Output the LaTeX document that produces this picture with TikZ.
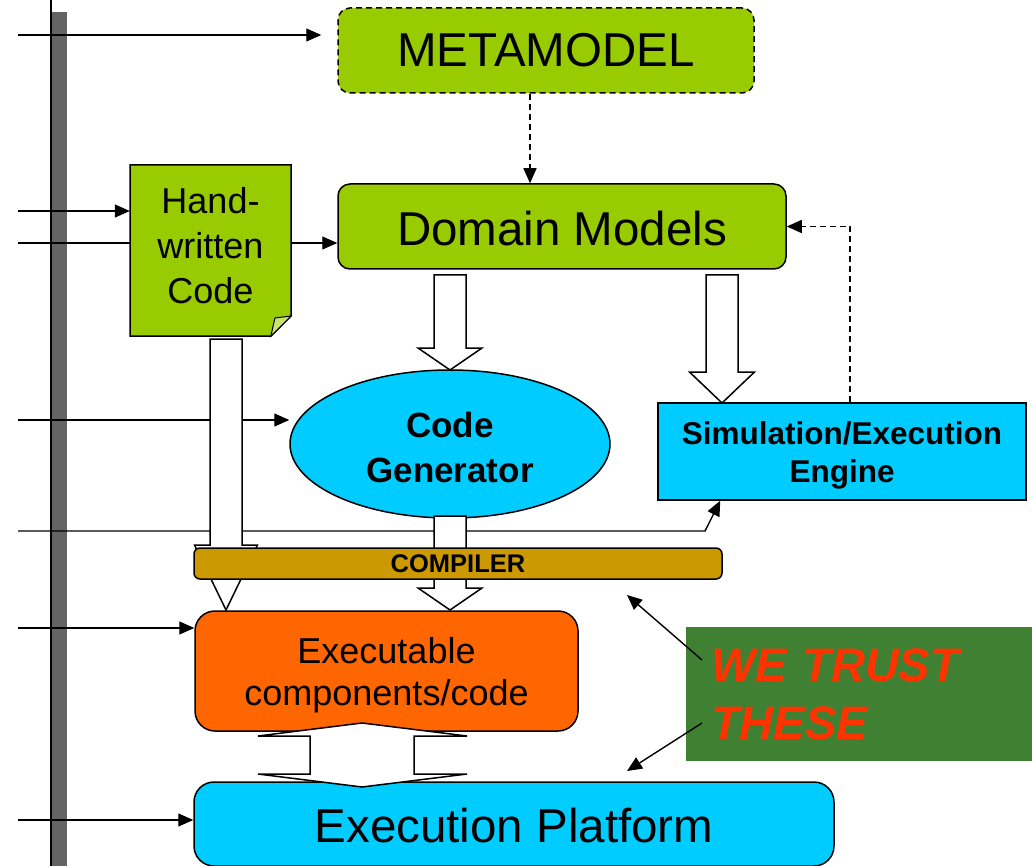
\documentclass[tikz,border=0pt]{standalone}
\usepackage{fontspec}
\setmainfont{Liberation Sans}
\usetikzlibrary{arrows.meta,shapes.geometric,calc}
\definecolor{mgreen}{HTML}{99CC00}
\definecolor{mcyan}{HTML}{00CCFF}
\definecolor{morange}{HTML}{FF6600}
\definecolor{mgold}{HTML}{CC9900}
\definecolor{tgreen}{HTML}{3F8032}
\definecolor{tred}{HTML}{FF3300}
\definecolor{bargray}{HTML}{646464}
\pgfdeclarelayer{back}
\pgfdeclarelayer{front}
\pgfsetlayers{back,main,front}
\newcommand\blockarr[5]{% x, y start, head base, tip, head half width
  \draw[barrow] (#1-16,#2) -- (#1+16,#2) -- (#1+16,#3) -- (#1+#5,#3) -- (#1,#4) -- (#1-#5,#3) -- (#1-16,#3) -- cycle;}
\begin{document}
\begin{tikzpicture}[x=1pt,y=-1pt,
  box/.style={draw=black,line width=1.5pt,inner sep=0pt,align=center},
  txt/.style={inner sep=0pt,align=center},
  conn/.style={line width=1.4pt,-{Triangle[length=15pt,width=13pt]}},
  dconn/.style={conn,dash pattern=on 6pt off 4pt},
  barrow/.style={draw=black,fill=white,line width=1.5pt,line join=miter}]
\useasboundingbox (0,0) rectangle (1032,866);

% main nodes
\node[box,dash pattern=on 6pt off 4pt,fill=mgreen,rounded corners=12pt,minimum width=416pt,minimum height=85pt,
  font=\fontsize{47.5}{57}\selectfont] (mm) at (546,50.5) {METAMODEL};
\node[box,fill=mgreen,rounded corners=12pt,minimum width=448pt,minimum height=85pt] (dm) at (562,226.5) {};
\node[txt,font=\fontsize{47.5}{57}\selectfont] (dmtext) at ($(dm)+(0,2)$) {Domain Models};

\draw[line width=1.5pt,fill=mgreen] (130,165) -- (291,165) -- (291,316) -- (271,336) -- (130,336) -- cycle;
\draw[line width=1pt,fill=mgreen!55!white] (271,336) .. controls (273,326) .. (275,318) -- (291,316) -- cycle;
\node[inner sep=0pt,align=center,minimum width=161pt,minimum height=171pt,
  font=\fontsize{36}{45}\selectfont] (hw) at (210.5,246) {Hand-\\written\\Code};

\node[box,ellipse,fill=mcyan,minimum width=320pt,minimum height=148pt] (cg) at (450,444) {};
\node[txt,font=\fontsize{35}{45}\selectfont\bfseries] (cgtext) at ($(cg)+(0,3)$) {Code\\Generator};
\node[box,fill=mcyan,minimum width=368pt,minimum height=97pt] (sim) at (842,451.5) {};
\node[txt,font=\fontsize{31.5}{38}\selectfont\bfseries] (simtext) at ($(sim)+(0,4)$) {Simulation/Execution\\Engine};
\node[box,fill=morange,rounded corners=20pt,minimum width=383pt,minimum height=120pt] (ex) at (386.5,671) {};
\node[txt,font=\fontsize{36}{42}\selectfont] (extext) at ($(ex)+(0,4)$) {Executable\\components/code};
\node[box,fill=mcyan,rounded corners=20pt,minimum width=640pt,minimum height=84pt] (ep) at (514,824) {};
\node[txt,font=\fontsize{47.5}{57}\selectfont] (eptext) at ($(ep)+(0,2)$) {Execution Platform};

\node[fill=tgreen,inner xsep=25pt,inner ysep=0pt,text width=296pt,minimum height=134pt,align=left,
  text=tred,font=\fontsize{47}{58}\selectfont\bfseries\itshape] (trust) at (859,694) {WE TRUST\\THESE};

% connectors behind
\begin{pgfonlayer}{back}
\fill[bargray] (51,12) rectangle (67,866);
\draw[line width=1.3pt] (51,0) -- (51,866);
\coordinate (s35) at (18,35);
\coordinate (s211) at (18,211);
\coordinate (s243) at (18,243);
\coordinate (s420) at (18,420);
\coordinate (s530) at (18,531);
\coordinate (s628) at (18,628);
\coordinate (s820) at (18,820);
\coordinate (bend) at (705,531);
\coordinate (simin) at ($(sim.south west)+(63,0)$);
\draw[conn,shorten >=16pt] (s35) -- (s35 -| mm.west);
\draw[conn] (s211) -- (s211 -| hw.west);
\draw[conn] (s243) -- (s243 -| dm.west);
\draw[conn] (s420) -- (s420 -| cg.west);
\draw[conn] (s530) -- (bend) -- (simin);
\draw[conn] (s628) -- (s628 -| ex.west);
\draw[conn] (s820) -- (s820 -| ep.west);
\end{pgfonlayer}

% dashed connectors
\coordinate (mmout) at ($(mm.south)+(-16,0)$);
\draw[dconn] (mmout) -- (mmout |- dm.north);
\draw[dconn] ($(sim.north)+(8,0)$) |- (dm.east);

% trust arrows
\coordinate (t1) at (702,660);
\coordinate (t1e) at (627,595);
\coordinate (t2) at (702,723);
\coordinate (t2e) at (627,771);
\draw[conn] (t1) -- (t1e);
\draw[conn] (t2) -- (t2e);

% block arrows and compiler
\begin{pgfonlayer}{front}
\blockarr{450}{275}{348}{370}{32}
\blockarr{722}{275}{372}{403}{32.5}
\blockarr{226}{339}{545}{610}{31.5}
\blockarr{450}{516}{588}{610}{32}
\node[box,fill=mgold,rounded corners=6pt,minimum width=528pt,minimum height=31pt,
  font=\fontsize{25.5}{28}\selectfont\bfseries] (comp) at (458,563.5) {COMPILER};
\draw[barrow] (362,723) -- (467,736) -- (414,736) -- (414,774) -- (467,774) -- (362,787)
  -- (258,774) -- (310,774) -- (310,736) -- (258,736) -- cycle;
\end{pgfonlayer}
\end{tikzpicture}
\end{document}
